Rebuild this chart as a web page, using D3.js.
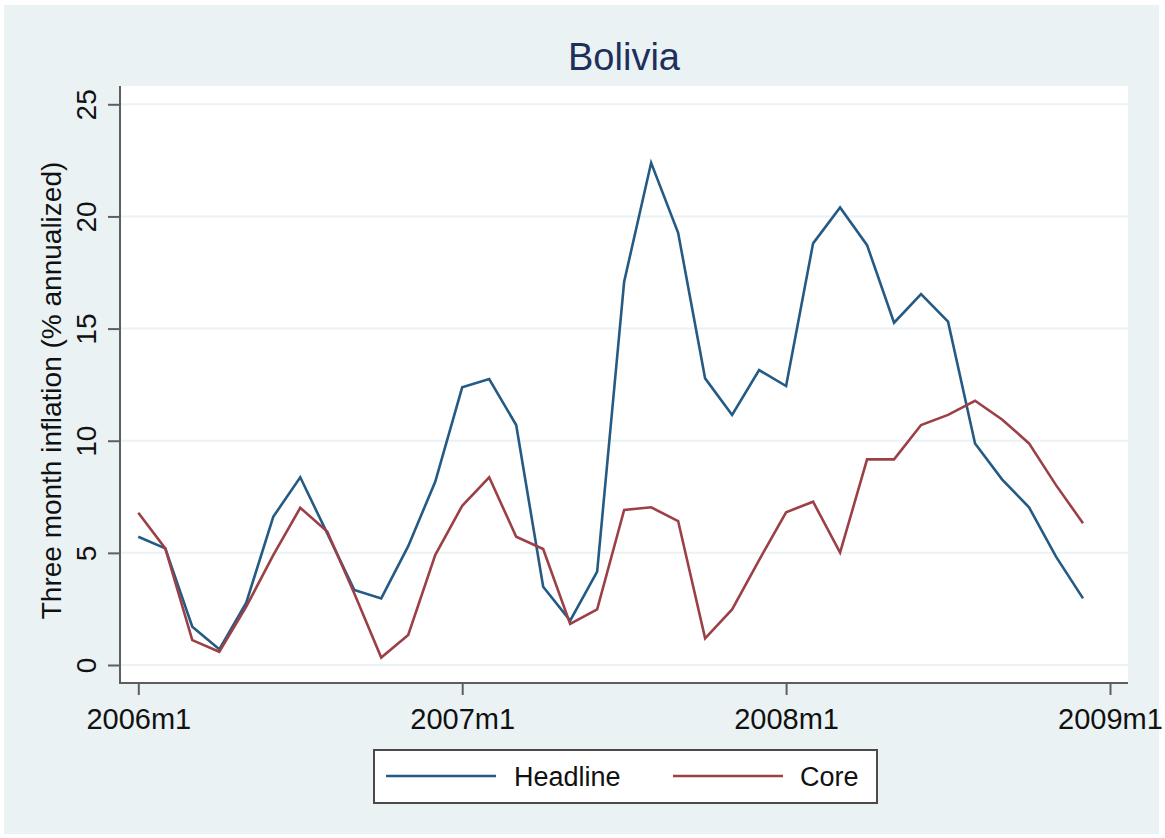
<!DOCTYPE html>
<html>
<head>
<meta charset="utf-8">
<script src="https://cdn.jsdelivr.net/npm/d3@7"></script>
<style>
  html, body { margin: 0; padding: 0; background: #ffffff; }
  svg { display: block; }
  text { font-family: "Liberation Sans", Arial, Helvetica, sans-serif; }
</style>
</head>
<body>
<svg id="chart" width="1165" height="838"></svg>
<script>
// ---- data ----
const title = "Bolivia";
const yTitle = "Three month inflation (% annualized)";
const seriesNames = ["Headline", "Core"];
// month index 0 = 2006m1 ... 35 = 2008m12
const months = d3.range(0, 36);
const headline = [5.72, 5.20, 1.71, 0.70, 2.78, 6.61, 8.37, 5.87, 3.35, 2.97, 5.30, 8.17,
                  12.38, 12.75, 10.70, 3.49, 1.98, 4.16, 17.09, 22.39, 19.27, 12.78, 11.15, 13.15,
                  12.44, 18.80, 20.40, 18.72, 15.26, 16.54, 15.31, 9.88, 8.28, 7.03, 4.83, 2.97];
const core = [6.79, 5.20, 1.11, 0.59, 2.60, 4.90, 7.01, 5.95, 3.20, 0.33, 1.34, 4.90,
              7.10, 8.37, 5.72, 5.17, 1.83, 2.48, 6.91, 7.03, 6.42, 1.19, 2.48, 4.68,
              6.81, 7.28, 5.01, 9.17, 9.17, 10.70, 11.15, 11.78, 10.95, 9.88, 8.02, 6.32];
const xTickValues = [0, 12, 24, 36];
const xTickLabels = ["2006m1", "2007m1", "2008m1", "2009m1"];
const yTickValues = [0, 5, 10, 15, 20, 25];
const colors = ["#245a84", "#9c4047"];

// ---- layout ----
const svg = d3.select("#chart");
const plot = { left: 120, right: 1128, top: 86, bottom: 683 };
const x = d3.scaleLinear().domain([0, 36]).range([138.3, 1110]);
const y = d3.scaleLinear().domain([0, 25]).range([665, 104.3]);

// outer background
svg.append("rect").attr("x", 4).attr("y", 5).attr("width", 1155).attr("height", 829)
  .attr("fill", "#eaf2f3");
// plot region
svg.append("rect").attr("x", plot.left).attr("y", plot.top)
  .attr("width", plot.right - plot.left).attr("height", plot.bottom - plot.top)
  .attr("fill", "#ffffff");

// gridlines
svg.append("g").selectAll("line").data(yTickValues).join("line")
  .attr("x1", plot.left).attr("x2", plot.right)
  .attr("y1", d => y(d)).attr("y2", d => y(d))
  .attr("stroke", "#eaf2f3").attr("stroke-width", 2);

// title
svg.append("text").attr("x", (plot.left + plot.right) / 2).attr("y", 70)
  .attr("text-anchor", "middle").attr("font-size", 38).attr("fill", "#1e2f5c")
  .text(title);

// y axis
const yAxis = d3.axisLeft(y).tickValues(yTickValues).tickSize(12).tickPadding(0).tickFormat(d3.format("d"));
const gy = svg.append("g").attr("transform", `translate(${plot.left},0)`).call(yAxis);
gy.select(".domain").remove();
gy.selectAll(".tick line").attr("stroke", "#5e5e5e").attr("stroke-width", 2);
gy.selectAll(".tick text")
  .attr("x", 0).attr("dy", null).attr("y", 0)
  .attr("transform", "translate(-24,0) rotate(-90)")
  .attr("text-anchor", "middle")
  .attr("font-size", 28).attr("fill", "#111").attr("font-family", null);
svg.append("line").attr("x1", plot.left).attr("x2", plot.left)
  .attr("y1", plot.top).attr("y2", plot.bottom + 1)
  .attr("stroke", "#5e5e5e").attr("stroke-width", 2);

// y title
svg.append("text")
  .attr("transform", `translate(61,${(plot.top + plot.bottom) / 2 + 6}) rotate(-90)`)
  .attr("text-anchor", "middle").attr("font-size", 28).attr("fill", "#111")
  .text(yTitle);

// x axis
const xAxis = d3.axisBottom(x).tickValues(xTickValues).tickSize(12).tickPadding(13)
  .tickFormat((d, i) => xTickLabels[i]);
const gx = svg.append("g").attr("transform", `translate(0,${plot.bottom})`).call(xAxis);
gx.select(".domain").remove();
gx.selectAll(".tick line").attr("stroke", "#5e5e5e").attr("stroke-width", 2);
gx.selectAll(".tick text").attr("font-size", 29).attr("fill", "#111").attr("font-family", null)
  .attr("dy", "0.71em");
svg.append("line").attr("x1", plot.left - 1).attr("x2", plot.right)
  .attr("y1", plot.bottom).attr("y2", plot.bottom)
  .attr("stroke", "#5e5e5e").attr("stroke-width", 2);

// lines
const line = d3.line().x((d, i) => x(months[i])).y(d => y(d));
[headline, core].forEach((s, k) => {
  svg.append("path").datum(s).attr("d", line)
    .attr("fill", "none").attr("stroke", colors[k]).attr("stroke-width", 2.6)
    .attr("stroke-linejoin", "miter");
});

// legend
const lg = svg.append("g");
lg.append("rect").attr("x", 374).attr("y", 750).attr("width", 503).attr("height", 53)
  .attr("fill", "#ffffff").attr("stroke", "#4a4a4a").attr("stroke-width", 2);
const legendItems = [
  { x1: 386, x2: 496, tx: 514 },
  { x1: 673, x2: 783, tx: 800 }
];
legendItems.forEach((it, k) => {
  lg.append("line").attr("x1", it.x1).attr("x2", it.x2).attr("y1", 776).attr("y2", 776)
    .attr("stroke", colors[k]).attr("stroke-width", 2.6);
  lg.append("text").attr("x", it.tx).attr("y", 786).attr("font-size", 27).attr("fill", "#111")
    .text(seriesNames[k]);
});
</script>
</body>
</html>
